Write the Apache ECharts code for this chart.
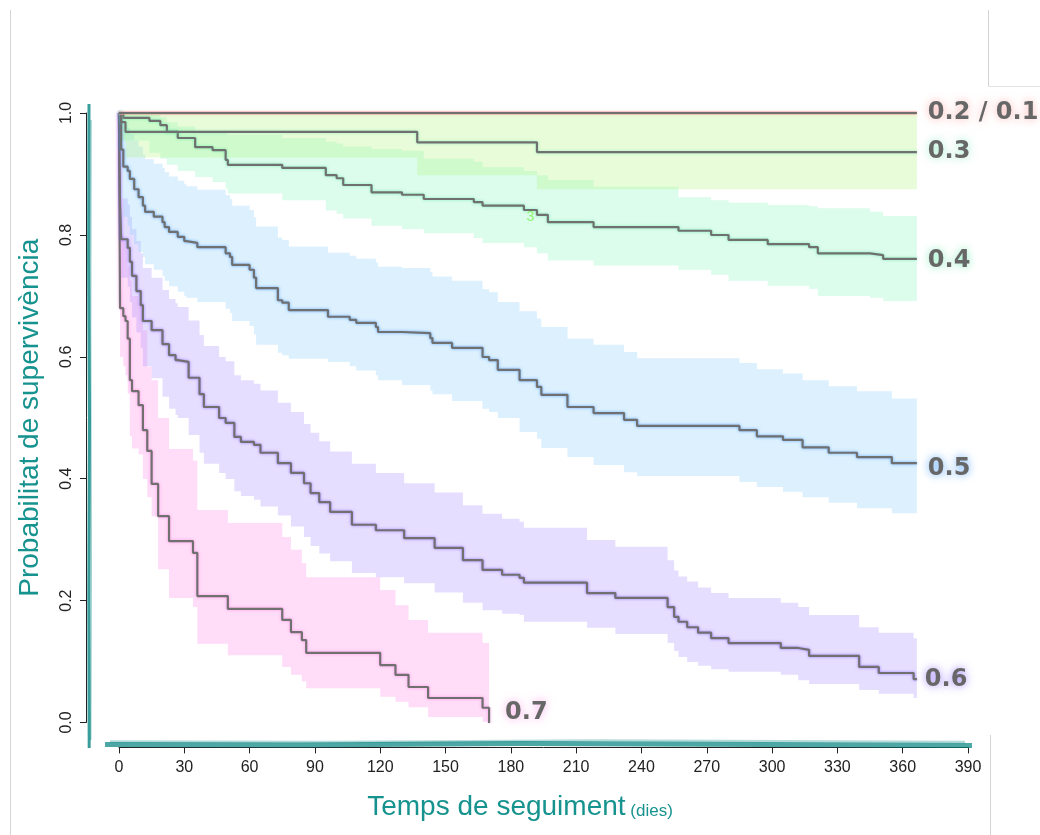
<!DOCTYPE html>
<html>
<head>
<meta charset="utf-8">
<script src="https://cdn.jsdelivr.net/npm/echarts@6.0.0/dist/echarts.min.js"></script>
<style>
  html, body { margin: 0; padding: 0; background: #ffffff; }
  #chart { width: 1040px; height: 835px; }
</style>
</head>
<body>
<div id="chart"></div>
<script>
// Kaplan-Meier survival curves with 95% confidence bands, one per group.
// Each group: event days, survival after that day, lower and upper CI bounds.
const followUpEnd = 366.5;

const days01 = [0];
const surv01 = [1];

const days02 = [0];
const surv02 = [1];

const days03  = [0, 1, 3, 137, 192];
const surv03  = [1, 0.985, 0.969, 0.952, 0.936];
const lower03 = [1, 0.955, 0.927, 0.898, 0.875];
const upper03 = [1, 1, 1, 1, 1];

const days04  = [0, 2, 14, 19, 22, 27, 35, 43, 49, 50, 75, 95, 100, 103, 116, 130, 140, 163, 167, 186,
                 192, 197, 218, 257, 272, 280, 298, 317, 321, 345, 351];
const surv04  = [1, 0.992, 0.987, 0.980, 0.969, 0.959, 0.944, 0.939, 0.923, 0.915, 0.910, 0.898, 0.893, 0.882, 0.870, 0.866, 0.859, 0.854, 0.848, 0.841,
                 0.833, 0.821, 0.813, 0.807, 0.800, 0.792, 0.785, 0.780, 0.770, 0.767, 0.761];
const lower04 = [1, 0.955, 0.935, 0.925, 0.915, 0.905, 0.895, 0.887, 0.876, 0.868, 0.857, 0.840, 0.835, 0.827, 0.815, 0.810, 0.803, 0.795, 0.787, 0.780,
                 0.770, 0.758, 0.750, 0.743, 0.735, 0.725, 0.717, 0.712, 0.700, 0.697, 0.692];
const upper04 = [1, 1, 0.998, 0.993, 0.985, 0.978, 0.970, 0.968, 0.966, 0.964, 0.959, 0.953, 0.950, 0.945, 0.941, 0.938, 0.925, 0.920, 0.911, 0.905,
                 0.898, 0.890, 0.879, 0.862, 0.857, 0.853, 0.849, 0.847, 0.844, 0.838, 0.831];

const days05  = [0, 1, 2, 4, 5, 7, 9, 11, 12, 16, 20, 21, 23, 27, 30, 31, 36, 49, 51, 52,
                 60, 62, 63, 73, 75, 78, 96, 106, 109, 118, 119, 130, 143, 144, 153, 167, 170, 174, 184, 192,
                 194, 206, 218, 232, 238, 285, 293, 305, 314, 326, 339, 355];
const surv05  = [1, 0.94, 0.912, 0.905, 0.892, 0.875, 0.862, 0.848, 0.838, 0.830, 0.821, 0.813, 0.805, 0.797, 0.790, 0.787, 0.780, 0.770, 0.764, 0.751,
                 0.743, 0.730, 0.713, 0.693, 0.689, 0.677, 0.666, 0.661, 0.656, 0.649, 0.641, 0.639, 0.631, 0.623, 0.615, 0.600, 0.595, 0.579, 0.562, 0.551,
                 0.538, 0.518, 0.508, 0.497, 0.487, 0.480, 0.470, 0.464, 0.452, 0.443, 0.436, 0.426];
const lower05 = [1, 0.86, 0.83, 0.815, 0.80, 0.785, 0.772, 0.764, 0.752, 0.743, 0.733, 0.725, 0.716, 0.707, 0.700, 0.697, 0.690, 0.679, 0.672, 0.659,
                 0.651, 0.637, 0.620, 0.607, 0.603, 0.597, 0.592, 0.585, 0.578, 0.570, 0.562, 0.554, 0.545, 0.539, 0.528, 0.515, 0.510, 0.500, 0.477, 0.466,
                 0.451, 0.436, 0.423, 0.411, 0.405, 0.395, 0.387, 0.379, 0.370, 0.361, 0.352, 0.344];
const upper05 = [1, 1, 0.98, 0.975, 0.965, 0.955, 0.945, 0.932, 0.924, 0.917, 0.910, 0.903, 0.896, 0.889, 0.883, 0.880, 0.874, 0.865, 0.859, 0.848,
                 0.841, 0.829, 0.814, 0.796, 0.792, 0.781, 0.771, 0.766, 0.761, 0.755, 0.748, 0.746, 0.739, 0.732, 0.725, 0.711, 0.706, 0.690, 0.675, 0.663,
                 0.649, 0.630, 0.620, 0.608, 0.598, 0.590, 0.580, 0.573, 0.562, 0.552, 0.544, 0.532];

const days06  = [0, 0.5, 1, 4, 5, 6, 8, 10, 11, 15, 20, 23, 26, 27, 32, 37, 39, 46, 49, 53,
                 56, 62, 65, 73, 79, 85, 88, 92, 97, 107, 118, 131, 145, 158, 167, 176, 184, 186, 215, 228,
                 252, 255, 257, 261, 266, 272, 280, 304, 312, 317, 340, 349, 365];
const surv06  = [1, 0.85, 0.793, 0.779, 0.756, 0.733, 0.708, 0.685, 0.659, 0.644, 0.621, 0.603, 0.595, 0.592, 0.566, 0.539, 0.518, 0.500, 0.492, 0.469,
                 0.461, 0.456, 0.443, 0.426, 0.410, 0.393, 0.377, 0.362, 0.346, 0.325, 0.316, 0.303, 0.287, 0.267, 0.251, 0.243, 0.238, 0.230, 0.213, 0.205,
                 0.190, 0.174, 0.166, 0.157, 0.148, 0.139, 0.131, 0.123, 0.120, 0.110, 0.092, 0.082, 0.072];
const lower06 = [1, 0.80, 0.73, 0.715, 0.69, 0.665, 0.64, 0.615, 0.585, 0.565, 0.535, 0.515, 0.505, 0.500, 0.472, 0.443, 0.425, 0.410, 0.400, 0.380,
                 0.372, 0.366, 0.355, 0.340, 0.322, 0.305, 0.290, 0.278, 0.265, 0.246, 0.239, 0.229, 0.214, 0.197, 0.185, 0.179, 0.177, 0.166, 0.156, 0.146,
                 0.131, 0.118, 0.108, 0.100, 0.094, 0.088, 0.084, 0.079, 0.070, 0.064, 0.054, 0.048, 0.041];
const upper06 = [1, 0.90, 0.86, 0.85, 0.83, 0.81, 0.79, 0.77, 0.746, 0.73, 0.71, 0.695, 0.688, 0.682, 0.660, 0.636, 0.618, 0.600, 0.593, 0.570,
                 0.562, 0.556, 0.545, 0.525, 0.510, 0.490, 0.476, 0.462, 0.445, 0.425, 0.410, 0.393, 0.378, 0.357, 0.343, 0.335, 0.330, 0.320, 0.300, 0.289,
                 0.267, 0.250, 0.240, 0.232, 0.222, 0.213, 0.205, 0.197, 0.190, 0.177, 0.157, 0.148, 0.139];

const days07  = [0, 0.5, 2, 3, 4, 5, 6, 9, 11, 13, 15, 18, 23, 34, 36, 50, 75, 79, 84, 86,
                 120, 127, 133, 142, 167, 170];
const surv07  = [1, 0.68, 0.667, 0.659, 0.63, 0.562, 0.544, 0.521, 0.48, 0.446, 0.392, 0.339, 0.298, 0.279, 0.208, 0.187, 0.169, 0.149, 0.136, 0.115,
                 0.095, 0.079, 0.059, 0.041, 0.025, 0];
const lower07 = [1, 0.60, 0.585, 0.57, 0.54, 0.47, 0.45, 0.44, 0.40, 0.37, 0.339, 0.252, 0.205, 0.19, 0.13, 0.111, 0.092, 0.079, 0.068, 0.057,
                 0.043, 0.035, 0.026, 0.01, 0.002, 0];
const upper07 = [1, 0.80, 0.79, 0.78, 0.75, 0.726, 0.70, 0.689, 0.644, 0.584, 0.562, 0.50, 0.449, 0.43, 0.349, 0.328, 0.305, 0.284, 0.262, 0.239,
                 0.218, 0.193, 0.169, 0.148, 0.131, 0.131];

const xTickValues = [0, 30, 60, 90, 120, 150, 180, 210, 240, 270, 300, 330, 360, 390];
const yTickValues = [0, 0.2, 0.4, 0.6, 0.8, 1.0];

const teal = '#17938f';
const lineGray = '#707070';

// Confidence band: one stepped polygon built through the plot's own coordinate system
function bandSeries(name, days, lower, upper, end, fill) {
  return {
    type: 'custom',
    name: name,
    xAxisIndex: 0,
    yAxisIndex: 0,
    silent: true,
    z: 1,
    data: [[days[0], upper[0]]],
    renderItem: function (params, api) {
      const top = [];
      const bottom = [];
      for (let i = 0; i < days.length; i++) {
        const x0 = days[i];
        const x1 = i + 1 < days.length ? days[i + 1] : end;
        top.push(api.coord([x0, upper[i]]), api.coord([x1, upper[i]]));
        bottom.push(api.coord([x0, lower[i]]), api.coord([x1, lower[i]]));
      }
      return {
        type: 'polygon',
        shape: { points: top.concat(bottom.reverse()) },
        style: { fill: fill, stroke: null }
      };
    }
  };
}

// Survival step line, optionally extended to the end of follow-up, with its group label
function survSeries(name, days, surv, end, glow, label, extra) {
  const data = days.map((d, i) => [d, surv[i]]);
  if (end != null) data.push([end, surv[surv.length - 1]]);
  const s = {
    type: 'line',
    name: name,
    xAxisIndex: 0,
    yAxisIndex: 0,
    step: 'end',
    data: data,
    symbol: 'none',
    silent: true,
    z: 3,
    lineStyle: { color: lineGray, width: 2.2, shadowColor: glow, shadowBlur: 3 },
    emphasis: { disabled: true }
  };
  if (label) {
    s.endLabel = Object.assign({
      show: true,
      formatter: label,
      color: '#676767',
      fontFamily: 'DejaVu Sans',
      fontWeight: 'bold',
      fontSize: 24,
      distance: 11,
      textShadowColor: glow,
      textShadowBlur: 9
    }, extra || {});
  }
  return s;
}

const series = [
  bandSeries('IC 0.7', days07, lower07, upper07, 170, 'rgba(255,138,232,0.30)'),
  bandSeries('IC 0.6', days06, lower06, upper06, followUpEnd, 'rgba(172,145,255,0.30)'),
  bandSeries('IC 0.5', days05, lower05, upper05, followUpEnd, 'rgba(138,205,252,0.30)'),
  bandSeries('IC 0.4', days04, lower04, upper04, followUpEnd, 'rgba(138,245,192,0.30)'),
  bandSeries('IC 0.3', days03, lower03, upper03, followUpEnd, 'rgba(178,245,128,0.30)'),
  survSeries('0.7', days07, surv07, null, 'rgba(255,90,220,0.5)', '0.7', { distance: 16, offset: [0, -10] }),
  survSeries('0.6', days06, surv06, followUpEnd, 'rgba(120,80,255,0.7)', '0.6', { distance: 8, offset: [0, 1] }),
  survSeries('0.5', days05, surv05, followUpEnd, 'rgba(60,150,255,0.75)', '0.5', { offset: [0, 6] }),
  survSeries('0.4', days04, surv04, followUpEnd, 'rgba(80,230,160,0.65)', '0.4', { offset: [0, 2] }),
  survSeries('0.3', days03, surv03, followUpEnd, 'rgba(90,225,170,0.55)', '0.3'),
  Object.assign(survSeries('0.1', days01, surv01, followUpEnd, 'rgba(255,110,110,0.5)', null),
    { lineStyle: { color: '#eab0b0', width: 3.2 } }),
  survSeries('0.2', days02, surv02, followUpEnd, 'rgba(255,110,110,0.5)', '0.2 / 0.1')
];

// Censor count annotation on the 0.4 curve
series[8].markPoint = {
  silent: true,
  symbol: 'circle',
  symbolSize: 0,
  data: [{ coord: [189, 0.829] }],
  label: { show: true, formatter: '3', color: '#8cf56c', fontSize: 14, fontFamily: 'Liberation Sans', position: 'inside' }
};

const axisFont = 'Liberation Sans';

const option = {
  animation: false,
  backgroundColor: '#ffffff',
  grid: [
    { left: 85, right: 38, top: 88.6, bottom: 87.6 },      // plot region
    { left: 86, width: 1, top: 113, bottom: 112.5 },        // survival axis
    { left: 119, right: 72, top: 746.4, height: 1 }         // follow-up axis
  ],
  xAxis: [
    { gridIndex: 0, type: 'value', min: -15.6, max: 405.6, show: false },
    { gridIndex: 1, type: 'value', min: 0, max: 1, show: false },
    {
      gridIndex: 2, type: 'value', min: 0, max: 390, position: 'bottom',
      axisLine: { show: true, lineStyle: { color: '#222222', width: 1 } },
      axisTick: { show: true, length: 6, customValues: xTickValues, lineStyle: { color: '#222222' } },
      axisLabel: { customValues: xTickValues, fontSize: 16, color: '#222222', margin: 12, fontFamily: axisFont },
      splitLine: { show: false },
      name: '{t|Temps de seguiment}{d| (dies)}',
      nameLocation: 'middle',
      nameGap: 46,
      nameTextStyle: {
        padding: [0, 47, 0, 0],
        rich: {
          t: { fontSize: 28, color: teal, fontFamily: axisFont },
          d: { fontSize: 17, color: teal, fontFamily: axisFont, verticalAlign: 'bottom', padding: [0, 0, 2, 0] }
        }
      }
    }
  ],
  yAxis: [
    { gridIndex: 0, type: 'value', min: -0.04, max: 1.04, show: false },
    {
      gridIndex: 1, type: 'value', min: 0, max: 1, position: 'left',
      axisLine: { show: true, lineStyle: { color: '#222222', width: 1 } },
      axisTick: { show: true, length: 6, customValues: yTickValues, lineStyle: { color: '#222222' } },
      axisLabel: {
        customValues: yTickValues, rotate: 90, fontSize: 16, color: '#222222', margin: 11, fontFamily: axisFont,
        formatter: v => v.toFixed(1)
      },
      splitLine: { show: false },
      name: 'Probabilitat de supervivència',
      nameLocation: 'middle',
      nameRotate: 90,
      nameGap: 42,
      nameTextStyle: { fontSize: 28, color: teal, fontFamily: axisFont }
    },
    { gridIndex: 2, type: 'value', min: 0, max: 1, show: false }
  ],
  graphic: [
    // page frame
    { type: 'line', z: 100, shape: { x1: 10.5, y1: 10, x2: 10.5, y2: 835 }, style: { stroke: '#d4d4d4', lineWidth: 1 } },
    { type: 'line', z: 100, shape: { x1: 988.5, y1: 10, x2: 988.5, y2: 86 }, style: { stroke: '#d4d4d4', lineWidth: 1 } },
    { type: 'line', z: 100, shape: { x1: 988, y1: 86.5, x2: 1040, y2: 86.5 }, style: { stroke: '#e4e4e4', lineWidth: 1 } },
    { type: 'line', z: 100, shape: { x1: 990.5, y1: 735, x2: 990.5, y2: 835 }, style: { stroke: '#d4d4d4', lineWidth: 1 } },
    // hand-drawn highlight over the axes
    { type: 'polyline', z: 100, shape: { points: [[89, 104], [88.6, 260], [89.4, 420], [88.8, 600], [89.2, 748]] },
      style: { stroke: 'rgba(8,134,130,0.8)', lineWidth: 3, fill: null } },
    { type: 'polyline', z: 100, shape: { points: [[91, 120], [90.6, 330], [91.2, 560], [90.7, 740]] },
      style: { stroke: 'rgba(8,134,130,0.4)', lineWidth: 1.5, fill: null } },
    { type: 'polyline', z: 100, shape: { points: [[105, 744.5], [300, 745], [520, 743.5], [760, 744.5], [972, 745.5]] },
      style: { stroke: 'rgba(8,134,130,0.72)', lineWidth: 5, fill: null } },
    { type: 'polyline', z: 100, shape: { points: [[110, 741.5], [330, 742], [600, 740.5], [965, 742]] },
      style: { stroke: 'rgba(8,134,130,0.3)', lineWidth: 2.5, fill: null } }
  ],
  series: series
};

const chart = echarts.init(document.getElementById('chart'), null, { renderer: 'canvas' });
chart.setOption(option);
</script>
</body>
</html>
